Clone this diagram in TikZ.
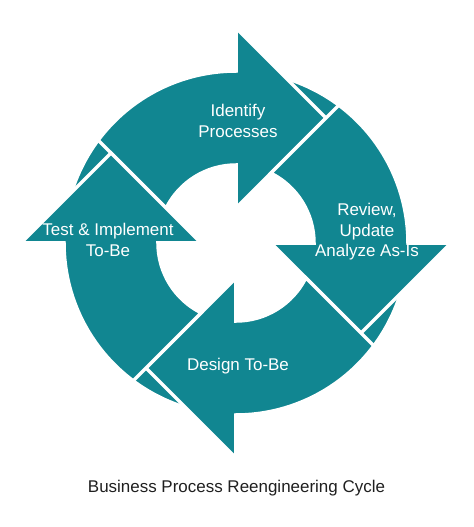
\documentclass[tikz,border=0pt]{standalone}
\usepackage{fontspec}
\setmainfont{Liberation Sans}
\definecolor{cycleteal}{RGB}{17,134,145}

\begin{document}
\begin{tikzpicture}[x=0.035cm, y=0.035cm,
	piece/.style = {fill=cycleteal, draw=white, line width=3.5pt, line join=miter},
	steptext/.style = {text=white, align=center, font=\fontsize{16.9}{20.5}\selectfont},
	caption/.style = {text=black!88, font=\fontsize{16.9}{20.5}\selectfont}]

	\useasboundingbox (-236,-284) rectangle (238,243);

	% ring under the arrows
	\path[piece, even odd rule] (0,0) circle (172) (0,0) circle (78);

	% four arrows, body plus head, turned clockwise
	\foreach \turn in {0,-90,-180,-270}
	\path[piece, rotate=\turn] (143.27:172) arc[start angle=143.27, end angle=90, radius=172]
		-- (0,215) -- (90,125) -- (0,35) -- (0,78)
		arc[start angle=90, end angle=153.5, radius=78] -- cycle;

	\node[steptext] (identify) at (2,122) {Identify\\Processes};
	\node[steptext] (review) at (131,11) {Review,\\Update\\Analyze As-Is};
	\node[steptext] (design) at (2,-123) {Design To-Be};
	\node[steptext] (testimpl) at (-128,3) {Test \& Implement\\To-Be};

	\node[caption] (title) at (0.5,-245) {Business Process Reengineering Cycle};
\end{tikzpicture}
\end{document}
